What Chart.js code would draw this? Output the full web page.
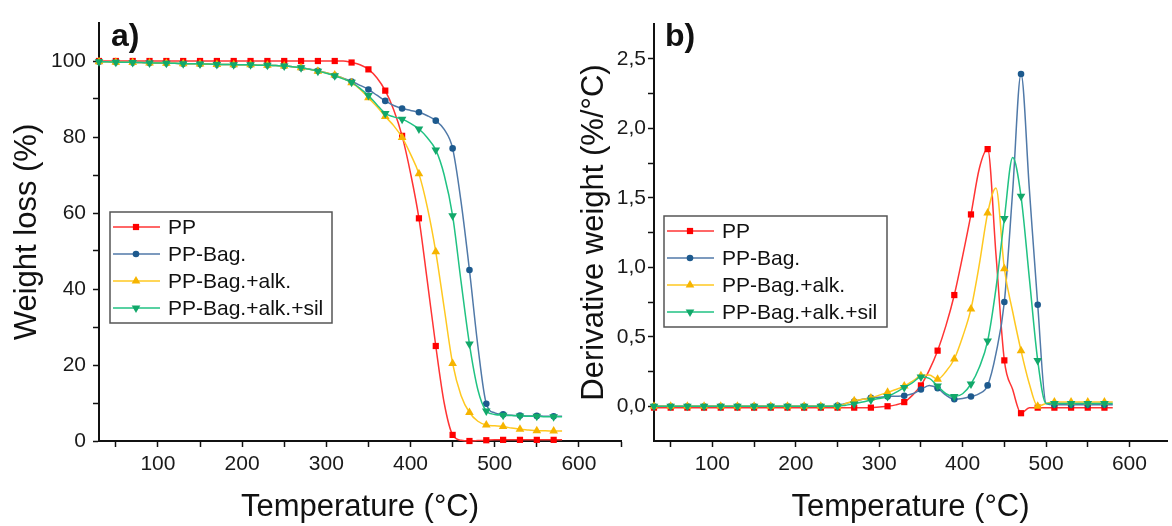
<!DOCTYPE html>
<html>
<head>
<meta charset="utf-8">
<script src="https://cdn.jsdelivr.net/npm/chart.js@4.4.0/dist/chart.umd.min.js"></script>
<style>
  body { margin: 0; background: #fff; }
  #wrap { position: relative; width: 1172px; height: 526px; overflow: hidden; background: #fff; }
  canvas { position: absolute; top: 0; }
  #tga { left: 0; width: 630px; height: 526px; }
  #dtg { left: 570px; width: 602px; height: 526px; }
</style>
</head>
<body>
<div id="wrap">
  <canvas id="tga" width="630" height="526"></canvas>
  <canvas id="dtg" width="602" height="526"></canvas>
</div>
<script>
const temps = [30, 40, 50, 60, 70, 80, 90, 100, 110, 120,
  130, 140, 150, 160, 170, 180, 190, 200, 210, 220,
  230, 240, 250, 260, 270, 280, 290, 300, 310, 320,
  330, 340, 350, 360, 370, 380, 390, 400, 410, 420,
  430, 440, 450, 460, 470, 480, 490, 500, 510, 520,
  530, 540, 550, 560, 570, 580];

const seriesNames = ["PP", "PP-Bag.", "PP-Bag.+alk.", "PP-Bag.+alk.+sil"];

// a) TGA, weight loss (%)
const weightPP = [100, 100, 100, 100, 100, 100, 100, 100, 100, 100,
  100, 100, 100, 100, 100, 100, 100, 100, 100, 100,
  100, 100, 100, 100, 100, 100, 100, 100, 100, 100,
  99.6, 99.0, 97.8, 95.6, 92.2, 87.2, 80.3, 70.5, 58.6, 42.0,
  25.0, 10.0, 1.6, 0.2, 0.0, 0.1, 0.2, 0.3, 0.3, 0.3,
  0.3, 0.3, 0.3, 0.3, 0.3, 0.3];
const weightBag = [99.8, 99.8, 99.7, 99.7, 99.6, 99.6, 99.5, 99.5, 99.4, 99.4,
  99.3, 99.3, 99.2, 99.2, 99.1, 99.1, 99.0, 99.0, 99.0, 98.9,
  98.9, 98.8, 98.7, 98.5, 98.2, 97.9, 97.4, 96.9, 96.2, 95.5,
  94.6, 93.6, 92.5, 91.0, 89.5, 88.3, 87.5, 87.0, 86.5, 85.6,
  84.3, 82.0, 77.0, 63.0, 45.0, 25.0, 9.8, 7.4, 7.0, 6.8,
  6.7, 6.6, 6.6, 6.5, 6.5, 6.5];
const weightAlk = [99.8, 99.8, 99.7, 99.7, 99.6, 99.6, 99.5, 99.5, 99.4, 99.4,
  99.3, 99.3, 99.2, 99.2, 99.1, 99.1, 99.0, 99.0, 99.0, 98.9,
  98.9, 98.8, 98.7, 98.5, 98.2, 97.8, 97.3, 96.9, 96.3, 95.4,
  94.3, 92.6, 90.3, 88.0, 85.4, 83.0, 79.9, 75.5, 70.3, 61.5,
  49.8, 35.0, 20.4, 12.0, 7.5, 5.2, 4.2, 4.0, 3.8, 3.4,
  3.1, 2.9, 2.7, 2.7, 2.6, 2.6];
const weightSil = [99.8, 99.8, 99.7, 99.7, 99.6, 99.6, 99.5, 99.5, 99.4, 99.4,
  99.3, 99.3, 99.2, 99.2, 99.1, 99.1, 99.0, 99.0, 99.0, 98.9,
  98.9, 98.8, 98.7, 98.5, 98.2, 97.8, 97.3, 96.8, 96.1, 95.3,
  94.4, 92.8, 90.9, 88.5, 86.2, 85.3, 84.7, 83.6, 82.1, 79.8,
  76.6, 70.0, 59.3, 42.0, 25.5, 13.5, 7.9, 7.0, 6.8, 6.7,
  6.6, 6.5, 6.5, 6.4, 6.4, 6.4];

// b) DTG, derivative weight (%/°C)
const derivPP = [-0.01, -0.01, -0.01, -0.01, -0.01, -0.01, -0.01, -0.01, -0.01, -0.01,
  -0.01, -0.01, -0.01, -0.01, -0.01, -0.01, -0.01, -0.01, -0.01, -0.01,
  -0.01, -0.01, -0.01, -0.01, -0.01, -0.01, -0.01, -0.005, 0.0, 0.01,
  0.03, 0.08, 0.15, 0.26, 0.40, 0.58, 0.80, 1.08, 1.38, 1.71,
  1.85, 1.09, 0.33, 0.12, -0.05, -0.01, -0.01, -0.01, -0.01, -0.01,
  -0.01, -0.01, -0.01, -0.01, -0.01, -0.01];
const derivBag = [0, 0, 0, 0, 0, 0, 0, 0, 0, 0,
  0, 0, 0, 0, 0, 0, 0, 0, 0, 0,
  0.0, 0.0, 0.005, 0.02, 0.034, 0.05, 0.06, 0.065, 0.07, 0.072,
  0.076, 0.09, 0.12, 0.15, 0.13, 0.08, 0.05, 0.055, 0.07, 0.09,
  0.15, 0.38, 0.75, 1.55, 2.39, 1.56, 0.73, 0.02, 0.01, 0.01,
  0.01, 0.01, 0.01, 0.01, 0.01, 0.01];
const derivAlk = [0, 0, 0, 0, 0, 0, 0, 0, 0, 0,
  0, 0, 0, 0, 0, 0, 0, 0, 0, 0,
  0.0, 0.0, 0.0, 0.02, 0.04, 0.05, 0.06, 0.08, 0.10, 0.12,
  0.145, 0.18, 0.22, 0.225, 0.195, 0.25, 0.34, 0.50, 0.70, 1.02,
  1.39, 1.57, 0.99, 0.68, 0.40, 0.16, 0.0, 0.02, 0.03, 0.03,
  0.03, 0.03, 0.03, 0.03, 0.03, 0.03];
const derivSil = [0, 0, 0, 0, 0, 0, 0, 0, 0, 0,
  0, 0, 0, 0, 0, 0, 0, 0, 0, 0,
  0.0, 0.0, 0.0, 0.008, 0.017, 0.03, 0.045, 0.055, 0.07, 0.10,
  0.135, 0.17, 0.21, 0.20, 0.145, 0.09, 0.07, 0.09, 0.16, 0.28,
  0.47, 0.85, 1.35, 1.79, 1.51, 0.92, 0.33, 0.02, 0.02, 0.02,
  0.02, 0.02, 0.02, 0.02, 0.02, 0.02];

// ticks
const tempTicks = [50, 100, 150, 200, 250, 300, 350, 400, 450, 500, 550, 600, 650];
const weightTicks = [0, 10, 20, 30, 40, 50, 60, 70, 80, 90, 100];
const derivTicks = [0, 0.25, 0.5, 0.75, 1, 1.25, 1.5, 1.75, 2, 2.25, 2.5];

const estilos = [
  { line: "#ff3434", point: "#ff0000", shape: "rect", size: 4.4, order: 3 },
  { line: "#5079a8", point: "#1d5a8e", shape: "circle", size: 3.3, order: 2 },
  { line: "#ffc820", point: "#f6b400", shape: "triangle", size: 5, order: 1 },
  { line: "#20c283", point: "#12a86a", shape: "triangleDown", size: 5, order: 0 }
];

const fuente = '"Liberation Sans", Arial, sans-serif';
Chart.defaults.font.family = fuente;
Chart.defaults.color = "#111";

function dibujarMarcador(ctx, forma, x, y, r) {
  ctx.beginPath();
  if (forma === "rect") {
    const s = r * Math.SQRT1_2;
    ctx.rect(x - s, y - s, 2 * s, 2 * s);
  } else if (forma === "circle") {
    ctx.arc(x, y, r, 0, Math.PI * 2);
  } else {
    const dir = forma === "triangle" ? -1 : 1;
    for (let k = 0; k < 3; k++) {
      const a = k * 2 * Math.PI / 3;
      const px = x + Math.sin(a) * r;
      const py = y + dir * Math.cos(a) * r;
      if (k === 0) ctx.moveTo(px, py); else ctx.lineTo(px, py);
    }
    ctx.closePath();
  }
  ctx.fill();
}

const decoracion = {
  id: "decoracion",
  afterDraw(chart, args, opts) {
    const ctx = chart.ctx;
    ctx.save();
    // etiqueta del panel
    ctx.fillStyle = "#111";
    ctx.font = "bold 32px " + fuente;
    ctx.textBaseline = "alphabetic";
    ctx.fillText(opts.tag, opts.tagX, 46);

    // leyenda con caja
    const L = opts.legend;
    ctx.strokeStyle = "#555";
    ctx.lineWidth = 1.5;
    ctx.strokeRect(L.x, L.y, L.w, L.h);
    ctx.font = "21px " + fuente;
    ctx.textBaseline = "middle";
    seriesNames.forEach((nombre, i) => {
      const e = estilos[i];
      const cy = L.y + 15 + i * 27;
      ctx.strokeStyle = e.line;
      ctx.lineWidth = 1.5;
      ctx.beginPath();
      ctx.moveTo(L.x + 3, cy);
      ctx.lineTo(L.x + 50, cy);
      ctx.stroke();
      ctx.fillStyle = e.point;
      dibujarMarcador(ctx, e.shape, L.x + 26, cy, e.size);
      ctx.fillStyle = "#111";
      ctx.fillText(nombre, L.x + 58, cy + 1);
    });
    ctx.restore();
  }
};

function crearDatasets(series) {
  return series.map((valores, i) => {
    const e = estilos[i];
    return {
      label: seriesNames[i],
      data: temps.map((t, j) => ({ x: t, y: valores[j] })),
      borderColor: e.line,
      borderWidth: 1.5,
      backgroundColor: e.point,
      pointBackgroundColor: e.point,
      pointBorderWidth: 0,
      pointStyle: e.shape === "triangleDown" ? "triangle" : e.shape,
      rotation: e.shape === "triangleDown" ? 180 : 0,
      pointRadius: (c) => ((temps[c.dataIndex] - 30) % 20 === 0 ? e.size : 0),
      pointHoverRadius: 0,
      cubicInterpolationMode: "monotone",
      order: e.order,
      clip: false
    };
  });
}

function ejeX(maxTemp) {
  return {
    type: "linear",
    min: 30,
    max: maxTemp,
    afterBuildTicks: (s) => { s.ticks = tempTicks.filter(v => v <= maxTemp).map(v => ({ value: v })); },
    afterFit: (s) => { s.height = 85; },
    ticks: {
      callback: (v) => (v % 100 === 0 && v <= 600 ? String(v) : ""),
      font: { size: 21 },
      color: "#1a1a1a",
      padding: 5,
      maxRotation: 0,
      autoSkip: false
    },
    grid: { drawOnChartArea: false, drawTicks: true, tickLength: 6, color: "#111", tickWidth: 1.5 },
    border: { display: true, color: "#111", width: 2 },
    title: { display: true, text: "Temperature (°C)", font: { size: 31 }, color: "#111", padding: { top: 0, bottom: 0 } }
  };
}

function crearGrafico(id, series, ejeY, extra) {
  return new Chart(document.getElementById(id), {
    type: "line",
    data: { datasets: crearDatasets(series) },
    options: {
      responsive: false,
      animation: false,
      devicePixelRatio: 1,
      layout: { padding: extra.padding },
      plugins: {
        legend: { display: false },
        tooltip: { enabled: false },
        decoracion: extra.decor
      },
      scales: { x: ejeX(extra.maxTemp), y: ejeY }
    },
    plugins: [decoracion]
  });
}

crearGrafico("tga", [weightPP, weightBag, weightAlk, weightSil], {
  type: "linear",
  min: 0,
  max: 110,
  afterBuildTicks: (s) => { s.ticks = weightTicks.map(v => ({ value: v })); },
  afterFit: (s) => { s.width = 99; },
  ticks: {
    callback: (v) => (v % 20 === 0 ? String(v) : ""),
    font: { size: 21 },
    color: "#1a1a1a",
    padding: 7
  },
  grid: { drawOnChartArea: false, drawTicks: true, tickLength: 6, color: "#111", tickWidth: 1.5 },
  border: { display: true, color: "#111", width: 2 },
  title: { display: true, text: "Weight loss (%)", font: { size: 31 }, color: "#111", padding: { top: 9, bottom: 0 } }
}, {
  padding: { left: 0, right: 9, top: 23, bottom: 0 },
  maxTemp: 650,
  decor: { tag: "a)", tagX: 111, legend: { x: 110, y: 212, w: 222, h: 111 } }
});

crearGrafico("dtg", [derivPP, derivBag, derivAlk, derivSil], {
  type: "linear",
  min: -0.25,
  max: 2.75,
  afterBuildTicks: (s) => { s.ticks = derivTicks.map(v => ({ value: v })); },
  afterFit: (s) => { s.width = 84; },
  ticks: {
    callback: (v) => (Math.abs(v * 2 - Math.round(v * 2)) < 1e-6 ? v.toFixed(1).replace(".", ",") : ""),
    font: { size: 21 },
    color: "#1a1a1a",
    padding: 2
  },
  grid: { drawOnChartArea: false, drawTicks: true, tickLength: 6, color: "#111", tickWidth: 1.5 },
  border: { display: true, color: "#111", width: 2 },
  title: { display: true, text: "Derivative weight (%/°C)", font: { size: 31 }, color: "#111", padding: { top: 6, bottom: 0 } }
}, {
  padding: { left: 0, right: 0, top: 24, bottom: 0 },
  maxTemp: 645,
  decor: { tag: "b)", tagX: 95, legend: { x: 94, y: 216, w: 223, h: 111 } }
});
</script>
</body>
</html>
